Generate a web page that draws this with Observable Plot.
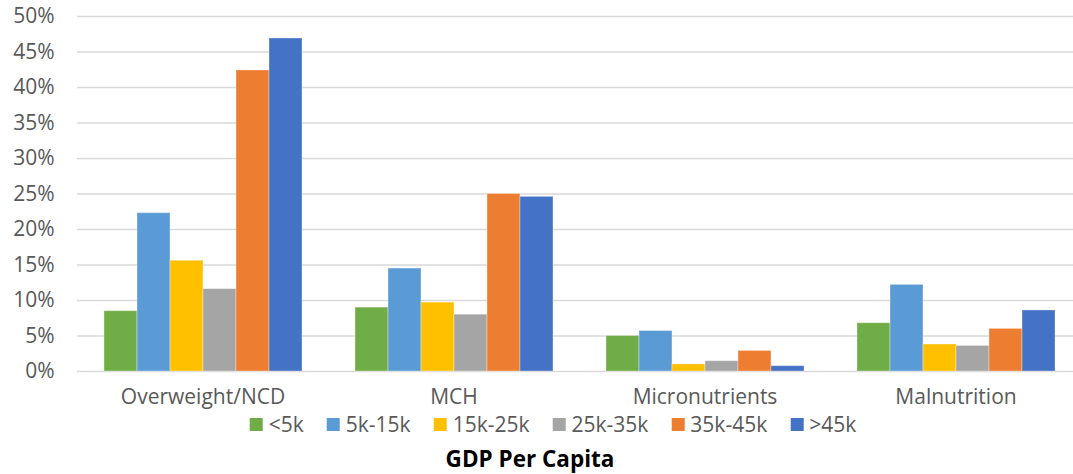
<!DOCTYPE html>
<html>
<head>
<meta charset="utf-8">
<script src="https://cdn.jsdelivr.net/npm/d3@7"></script>
<script src="https://cdn.jsdelivr.net/npm/@observablehq/plot@0.6"></script>
<style>
  html, body { margin: 0; padding: 0; background: #fff; overflow: hidden; }
  #wrap { position: relative; width: 1073px; height: 474px; font-family: "Open Sans", sans-serif; }
  #legend { position: absolute; top: 414px; left: 553px; transform: translateX(-50%); display: flex; align-items: center; white-space: nowrap; color: #595959; font-size: 21px; line-height: 20px; }
  .item { display: flex; align-items: center; margin-right: 23px; }
  .item:last-child { margin-right: 0; }
  .sw { width: 13px; height: 13px; margin-right: 6px; }
  #title { position: absolute; top: 446px; left: 530px; transform: translateX(-50%); font-weight: bold; font-size: 22.5px; line-height: 26px; color: #000; white-space: nowrap; }
</style>
</head>
<body>
<div id="wrap">
  <div id="chart"></div>
  <div id="legend"></div>
  <div id="title">GDP Per Capita</div>
</div>
<script>
const categories = ["Overweight/NCD", "MCH", "Micronutrients", "Malnutrition"];
const series = ["<5k", "5k-15k", "15k-25k", "25k-35k", "35k-45k", ">45k"];
const colors = ["#70AD47", "#5B9BD5", "#FFC000", "#A5A5A5", "#ED7D31", "#4472C4"];
const lt5k    = [0.085, 0.090, 0.050, 0.068];
const k5_15   = [0.223, 0.145, 0.057, 0.122];
const k15_25  = [0.156, 0.097, 0.010, 0.038];
const k25_35  = [0.116, 0.080, 0.0145, 0.036];
const k35_45  = [0.424, 0.250, 0.029, 0.060];
const gt45k   = [0.469, 0.246, 0.0075, 0.086];
const yTicks = [0, 0.05, 0.1, 0.15, 0.2, 0.25, 0.3, 0.35, 0.4, 0.45, 0.5];

const seriesValues = [lt5k, k5_15, k15_25, k25_35, k35_45, gt45k];
const data = [];
series.forEach((s, i) => categories.forEach((c, j) => data.push({category: c, series: s, value: seriesValues[i][j]})));

const chart = Plot.plot({
  width: 1073,
  height: 412,
  marginTop: 16,
  marginBottom: 41,
  marginLeft: 75,
  marginRight: -9,
  style: {fontFamily: "'Open Sans', sans-serif", fontSize: "21px", color: "#595959", background: "#fff"},
  fx: {domain: categories, padding: 0, label: null},
  x: {domain: series, paddingInner: 0, paddingOuter: 0.761, axis: null},
  y: {domain: [0, 0.5], label: null},
  color: {domain: series, range: colors},
  marks: [
    Plot.gridY(yTicks, {stroke: "#d9d9d9", strokeOpacity: 1, strokeWidth: 1.6}),
    Plot.barY(data, {fx: "category", x: "series", y: "value", fill: "series", stroke: "#ffffff", strokeOpacity: 0.35, strokeWidth: 1, inset: 0}),
    Plot.axisY(yTicks, {tickSize: 0, tickPadding: 23, tickFormat: d3.format(".0%"), label: null, fill: "#595959"}),
    Plot.axisFx({anchor: "bottom", tickSize: 0, tickPadding: 18, label: null, fill: "#595959"})
  ]
});
document.getElementById("chart").appendChild(chart);

const legend = document.getElementById("legend");
series.forEach((s, i) => {
  const item = document.createElement("div");
  item.className = "item";
  const sw = document.createElement("div");
  sw.className = "sw";
  sw.style.background = colors[i];
  const t = document.createElement("span");
  t.textContent = s;
  item.appendChild(sw);
  item.appendChild(t);
  legend.appendChild(item);
});
</script>
</body>
</html>
